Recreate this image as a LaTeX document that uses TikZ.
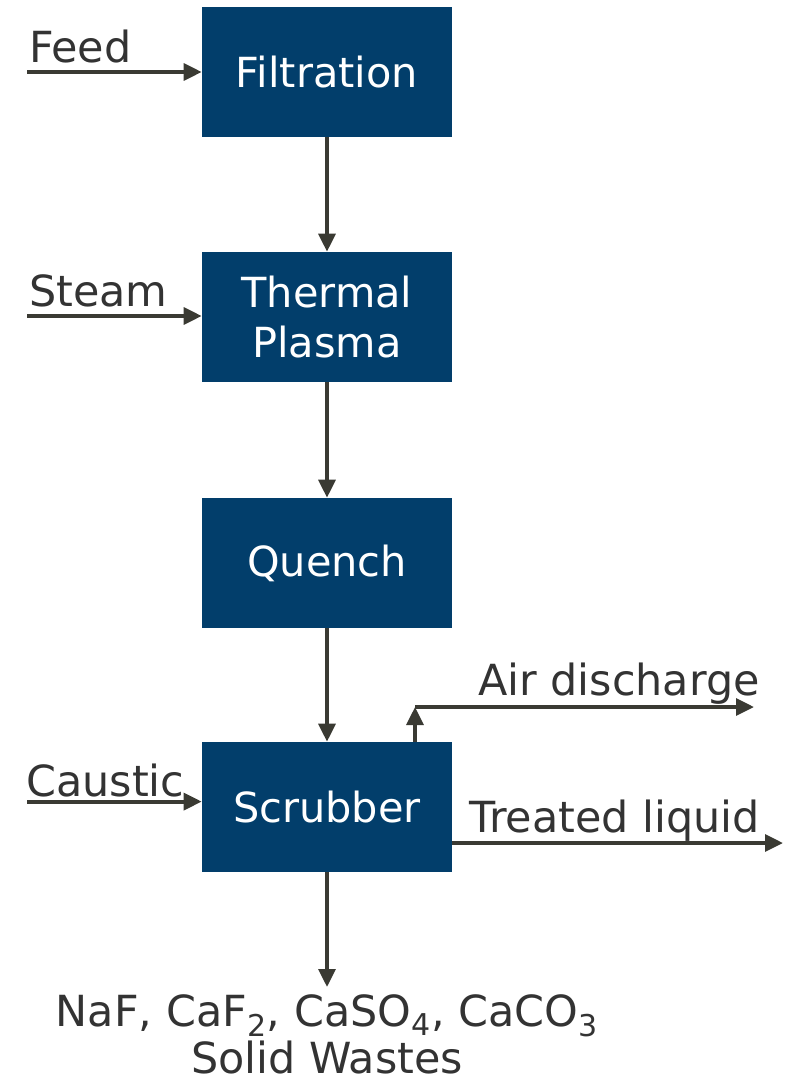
\documentclass[tikz,border=0pt]{standalone}
\usepackage{fontspec}
\setmainfont{DejaVu Sans}
\usetikzlibrary{arrows.meta}
\definecolor{unit-blue}{HTML}{023E6B}
\definecolor{line-grey}{HTML}{3A3A33}
\definecolor{text-grey}{HTML}{333333}

\begin{document}
\begin{tikzpicture}[
        every node/.style={font=\fontsize{29.5}{35}\selectfont},
        unit/.style={fill=unit-blue, text=white, minimum width=6.25cm,
            minimum height=3.25cm, align=center, inner sep=0pt},
        flow/.style={-{Triangle[length=0.45cm, width=0.42cm]},
            line width=0.095cm, line-grey},
        tag/.style={text=text-grey, inner sep=0pt,
            font=\fontsize{30.5}{34}\selectfont}]
      \useasboundingbox (0,0) rectangle (19.925,-27.175);
      % process units
      \node[unit] (FILT) at (8.175,-1.8) {Filtration};
      \node[unit] (TP) at (8.175,-7.925) {Thermal\\Plasma};
      \node[unit] (QU) at (8.175,-14.075) {Quench};
      \node[unit] (SCR) at (8.175,-20.175) {Scrubber};
      \draw[flow] (FILT) -- (TP);
      \draw[flow] (TP) -- (QU);
      \draw[flow] (QU) -- (SCR);
      % inputs
      \coordinate (feed-in) at (0.675,-1.8);
      \coordinate (steam-in) at (0.675,-7.9);
      \coordinate (caustic-in) at (0.675,-20.04);
      \draw[flow] (feed-in) -- (feed-in -| FILT.west);
      \draw[flow] (steam-in) -- (steam-in -| TP.west);
      \draw[flow] (caustic-in) -- (caustic-in -| SCR.west);
      \node[tag, anchor=base west] (FEED) at (0.72,-1.575) {Feed};
      \node[tag, anchor=base west] (STEAM) at (0.72,-7.675) {Steam};
      \node[tag, anchor=base west] (CAUSTIC) at (0.65,-19.92) {Caustic};
      % outputs
      \coordinate (air-bend) at (10.375,-17.675);
      \coordinate (air-out) at (18.85,-17.675);
      \draw[flow] (air-bend |- SCR.north) -- (air-bend);
      \draw[flow] (air-bend) -- (air-out);
      \node[tag, anchor=base east] (AIR) at (19.0,-17.375) {Air discharge};
      \coordinate (liq-out) at (19.575,-21.075);
      \draw[flow] (SCR.east |- liq-out) -- (liq-out);
      \node[tag, anchor=base east] (LIQ) at (19.0,-20.8) {Treated liquid};
      \coordinate (waste-out) at (8.175,-24.675);
      \draw[flow] (SCR.south) -- (waste-out);
      \node[tag, anchor=north, align=center]
            (WASTE) at (8.175,-24.85)
            {NaF, CaF\textsubscript{2}, CaSO\textsubscript{4}, CaCO\textsubscript{3}\\Solid Wastes};
    \end{tikzpicture}
\end{document}
